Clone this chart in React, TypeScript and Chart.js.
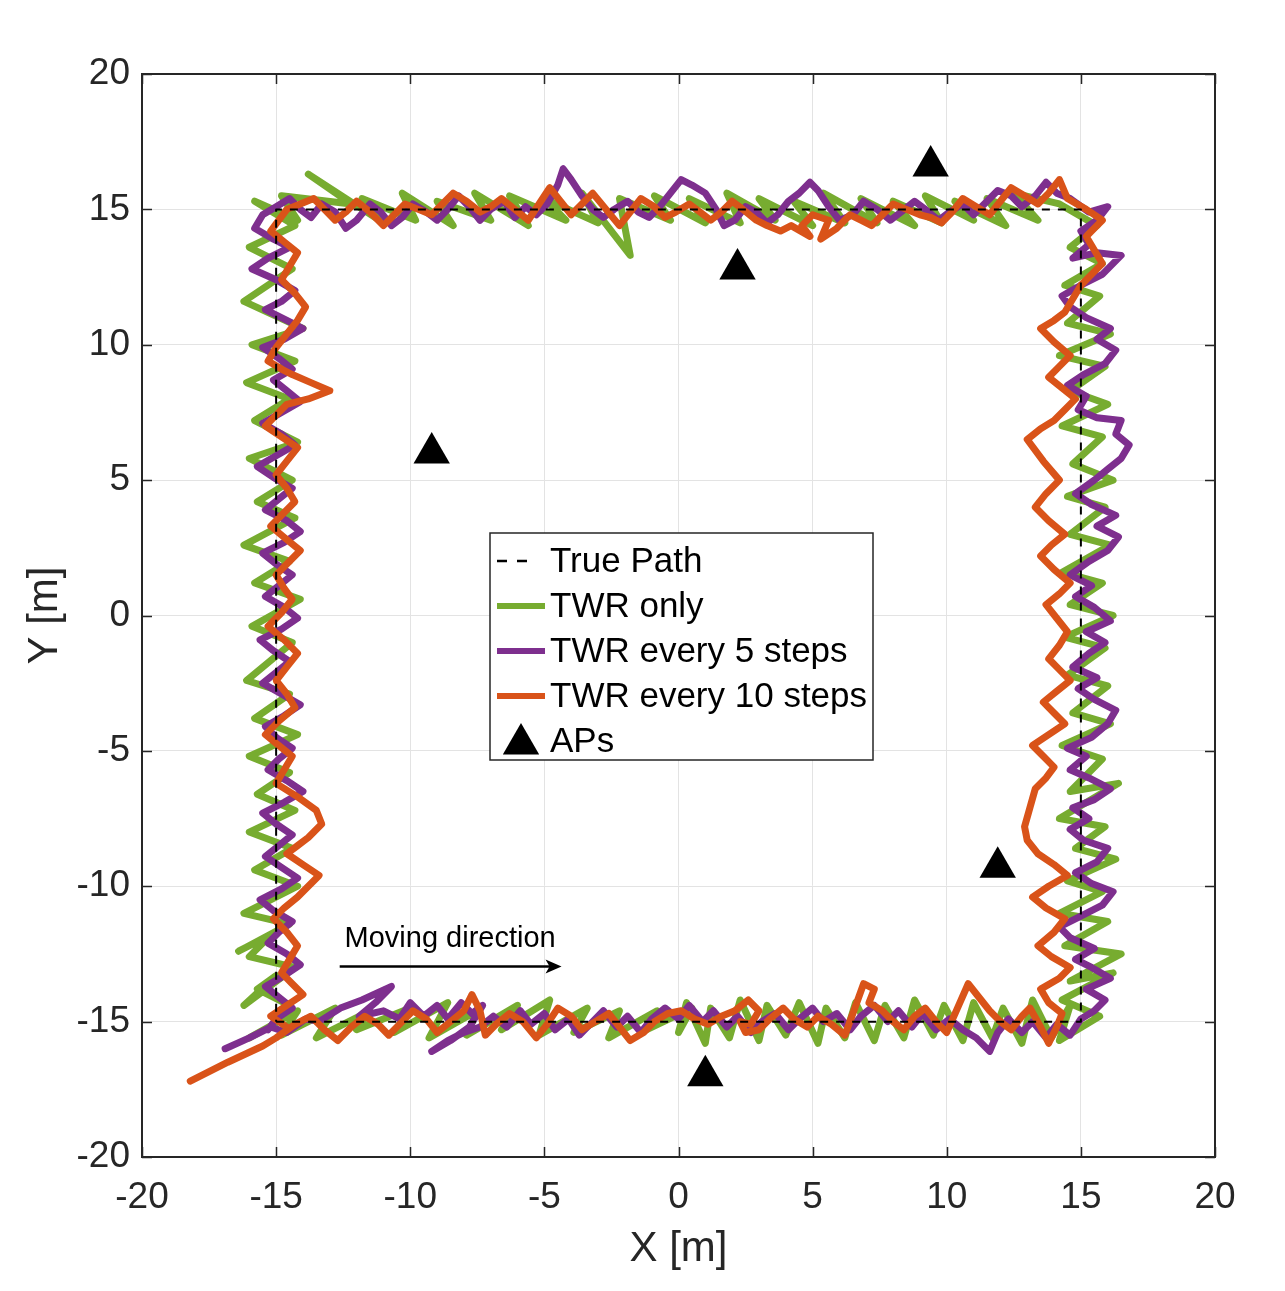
import { useEffect, useRef } from "react";
import { Chart, registerables } from "chart.js";

Chart.register(...registerables);

const FONT = '"Liberation Sans", Arial, Helvetica, sans-serif';
const INK = "#262626";

const xTicks = [-20, -15, -10, -5, 0, 5, 10, 15, 20];
const yTicks = [-20, -15, -10, -5, 0, 5, 10, 15, 20];

const seriesLabels = ["True Path", "TWR only", "TWR every 5 steps", "TWR every 10 steps", "APs"];
const seriesColors = ["#000000", "#77AC30", "#7E2F8E", "#D95319", "#000000"];

const truePath: number[][] = [[-15, -15], [15, -15], [15, 15], [-15, 15], [-15, -15]];

const twrOnly: number[][] = [
  [-16.0, -15.6], [-14.2, -14.6], [-14.8, -15.5], [-12.8, -14.5], [-13.5, -15.6], [-11.5, -14.6], [-12.0, -15.3], [-10.0, -14.5],
  [-10.6, -15.4], [-8.6, -14.3], [-9.3, -15.6], [-7.5, -14.6], [-7.9, -15.5], [-6.0, -14.4], [-6.6, -15.3], [-4.8, -14.2],
  [-5.2, -15.5], [-3.4, -14.5], [-3.9, -15.4], [-2.2, -14.6], [-2.6, -15.6], [-0.8, -14.6], [-1.2, -15.3], [0.5, -14.5],
  [0.0, -15.4], [0.3, -14.3], [1.0, -15.8], [1.2, -14.5], [1.9, -15.6], [2.3, -14.2], [3.0, -15.7], [3.3, -14.4],
  [4.0, -15.5], [4.5, -14.3], [5.2, -15.8], [5.5, -14.5], [6.2, -15.6], [6.6, -14.3], [7.3, -15.7], [7.7, -14.4],
  [8.4, -15.6], [8.8, -14.2], [9.5, -15.5], [9.9, -14.4], [10.6, -15.7], [11.0, -14.3], [11.7, -15.6], [12.1, -14.5],
  [12.8, -15.8], [13.2, -14.2], [13.9, -15.6], [14.6, -14.4], [14.2, -15.7], [15.7, -14.8],
  [14.3, -14.2], [16.2, -13.2], [14.6, -13.5], [16.5, -12.5], [14.4, -12.2], [16.0, -11.3], [14.2, -11.0], [15.8, -10.2],
  [14.5, -9.8], [16.3, -9.0], [14.8, -8.6], [15.9, -7.8], [14.2, -7.5], [16.4, -6.2], [14.6, -6.5], [15.8, -5.3],
  [14.3, -4.8], [16.1, -4.0], [14.7, -3.6], [16.0, -2.6], [14.5, -2.2], [15.9, -1.2], [14.4, -0.8], [16.2, 0.0],
  [14.6, 0.4], [15.8, 1.2], [14.3, 1.6], [16.1, 2.6], [14.6, 3.0], [15.9, 4.0], [14.5, 4.4], [16.2, 5.0],
  [14.7, 5.6], [15.8, 6.6], [14.3, 7.0], [16.0, 7.8], [14.6, 8.3], [15.9, 9.2], [14.2, 9.6], [16.1, 10.4],
  [14.5, 10.8], [15.7, 11.8], [14.4, 12.2], [15.8, 13.0], [14.6, 13.6], [15.6, 14.4], [14.2, 15.2],
  [12.5, 15.6], [13.4, 14.6], [11.5, 15.4], [12.2, 14.4], [10.3, 15.3], [11.0, 14.6], [9.2, 15.5], [9.8, 14.5],
  [8.0, 15.3], [8.8, 14.4], [6.8, 15.4], [7.4, 14.5], [5.4, 15.6], [6.2, 14.5], [4.3, 15.3], [5.0, 14.4],
  [3.0, 15.4], [3.6, 14.6], [1.8, 15.6], [2.3, 14.5], [0.4, 15.4], [1.0, 14.5], [-0.9, 15.5], [-0.3, 14.6],
  [-2.2, 15.4], [-1.8, 13.3], [-3.6, 15.6], [-3.0, 14.5], [-5.0, 15.4], [-4.2, 14.6], [-6.3, 15.5], [-5.6, 14.4],
  [-7.6, 15.6], [-7.0, 14.6], [-9.0, 15.3], [-8.4, 14.4], [-10.3, 15.6], [-9.8, 14.6], [-11.8, 15.4], [-11.0, 14.5],
  [-13.8, 16.3], [-12.2, 15.2], [-14.8, 15.5], [-14.2, 14.6],
  [-15.8, 15.3], [-14.3, 14.4], [-16.0, 13.6], [-14.4, 12.8], [-16.2, 11.6], [-14.0, 10.6], [-15.9, 10.0], [-14.3, 9.4],
  [-16.1, 8.6], [-14.5, 8.0], [-15.8, 7.2], [-14.2, 6.4], [-16.0, 5.8], [-14.4, 5.0], [-15.7, 4.2], [-14.3, 3.6],
  [-16.2, 2.6], [-14.5, 2.0], [-15.8, 1.2], [-14.1, 0.6], [-15.9, -0.4], [-14.4, -1.0], [-16.1, -2.4], [-14.5, -2.9],
  [-15.8, -3.8], [-14.2, -4.4], [-16.0, -5.2], [-14.5, -5.8], [-15.7, -6.6], [-14.3, -7.2], [-16.0, -8.0], [-14.4, -8.6],
  [-15.8, -9.4], [-14.2, -10.0], [-16.2, -11.0], [-14.5, -11.4], [-16.4, -12.4], [-15.2, -11.8], [-16.0, -12.6], [-14.3, -13.0],
  [-16.2, -14.4], [-15.0, -13.3], [-15.7, -13.8], [-14.5, -14.4],
];

const twr5: number[][] = [
  [-16.9, -16.0], [-16.0, -15.6], [-15.2, -15.2], [-14.6, -15.4], [-13.9, -14.9], [-13.4, -15.0], [-12.6, -14.5], [-11.8, -14.2],
  [-10.7, -13.7], [-11.3, -14.3], [-11.9, -14.8], [-11.0, -14.6], [-10.4, -14.9], [-10.0, -14.3], [-9.5, -14.8], [-9.0, -14.4],
  [-8.6, -14.9], [-8.1, -14.3], [-7.7, -14.7], [-7.3, -14.4], [-7.8, -15.2], [-8.5, -15.7], [-9.2, -16.1], [-8.6, -15.7],
  [-8.0, -15.4], [-7.4, -15.2], [-6.9, -14.8], [-6.4, -15.2], [-5.9, -14.6], [-5.5, -15.1], [-5.0, -14.7], [-4.6, -15.3],
  [-4.1, -14.9], [-3.7, -15.5], [-3.2, -15.0], [-2.8, -14.6], [-2.3, -15.2], [-1.9, -14.8], [-1.4, -15.4], [-1.0, -14.9],
  [-0.5, -14.5], [0.0, -14.9], [0.4, -14.4], [0.9, -15.0], [1.3, -14.6], [1.8, -15.2], [2.2, -14.8], [2.7, -15.4],
  [3.1, -15.0], [3.6, -14.7], [4.1, -15.3], [4.5, -14.9], [5.0, -14.5], [5.4, -15.0], [5.9, -14.7], [6.4, -15.3],
  [6.8, -14.8], [7.3, -14.4], [7.8, -15.0], [8.2, -14.6], [8.7, -15.2], [9.1, -14.7], [9.6, -15.3], [10.1, -14.9],
  [10.6, -15.3], [11.1, -15.6], [11.6, -16.1], [11.9, -15.4], [12.3, -14.9], [12.8, -15.4], [13.2, -15.0], [13.7, -15.6],
  [14.1, -15.1], [14.6, -15.5], [15.0, -14.9], [15.5, -14.6],
  [15.9, -14.2], [15.2, -13.8], [16.1, -13.4], [15.4, -13.0], [14.8, -12.7], [15.5, -12.3], [14.6, -11.9], [14.2, -11.5],
  [15.0, -11.1], [15.8, -10.7], [16.2, -10.2], [15.4, -9.9], [14.8, -9.5], [15.6, -9.1], [16.0, -8.6], [15.1, -8.3],
  [14.6, -7.9], [15.3, -7.5], [14.7, -7.1], [15.5, -6.8], [16.1, -6.4], [15.3, -6.0], [14.6, -5.7], [15.2, -5.2],
  [14.5, -4.9], [15.4, -4.5], [16.0, -4.0], [16.3, -3.5], [15.5, -3.1], [14.9, -2.7], [15.6, -2.3], [14.7, -1.9],
  [15.3, -1.4], [15.9, -1.0], [15.2, -0.6], [16.1, -0.2], [15.5, 0.3], [14.8, 0.7], [15.4, 1.1], [14.6, 1.5],
  [15.3, 2.0], [16.0, 2.4], [16.4, 2.9], [15.6, 3.3], [16.3, 3.7], [15.4, 4.1], [14.8, 4.5], [15.5, 5.0],
  [16.0, 5.4], [16.5, 5.8], [16.8, 6.3], [16.3, 6.7], [16.5, 7.2], [15.6, 7.3], [14.9, 7.6], [15.2, 8.1],
  [14.5, 8.5], [15.1, 8.9], [15.9, 9.3], [16.3, 9.8], [15.6, 10.2], [16.1, 10.6], [15.2, 11.0], [14.6, 11.4],
  [14.3, 11.8], [15.0, 12.2], [15.8, 12.6], [16.5, 13.3], [15.6, 13.4], [14.7, 13.2], [15.3, 13.7], [15.0, 14.2],
  [15.6, 14.6], [16.0, 15.1], [15.3, 14.9], [14.6, 15.4],
  [14.1, 15.6], [13.7, 16.0], [13.3, 15.5], [12.8, 15.1], [12.4, 15.5], [11.9, 15.7], [11.4, 15.2], [11.0, 14.8],
  [10.6, 15.2], [10.1, 14.9], [9.7, 14.6], [9.2, 15.0], [8.8, 15.3], [8.3, 14.9], [7.9, 14.6], [7.4, 15.0],
  [6.9, 15.3], [6.5, 14.8], [6.0, 14.6], [5.6, 15.1], [5.2, 15.7], [4.9, 16.0], [4.5, 15.6], [4.1, 15.3],
  [3.7, 14.8], [3.3, 14.5], [2.9, 14.9], [2.5, 15.1], [2.1, 14.6], [1.7, 14.4], [1.4, 15.0], [1.0, 15.6],
  [0.5, 15.9], [0.1, 16.1], [-0.3, 15.6], [-0.7, 15.1], [-1.1, 14.7], [-1.5, 14.9], [-1.9, 15.3], [-2.4, 15.0],
  [-2.8, 14.7], [-3.2, 15.0], [-3.6, 15.5], [-4.0, 16.1], [-4.3, 16.5], [-4.5, 15.9], [-4.9, 15.2], [-5.3, 14.8],
  [-5.7, 15.1], [-6.1, 14.7], [-6.5, 15.3], [-7.0, 15.0], [-7.4, 14.6], [-7.8, 15.1], [-8.2, 15.5], [-8.6, 15.0],
  [-9.0, 14.6], [-9.4, 14.9], [-9.9, 15.2], [-10.3, 14.7], [-10.7, 14.4], [-11.1, 14.9], [-11.5, 15.2], [-12.0, 14.6],
  [-12.4, 14.3], [-12.8, 14.9], [-13.3, 15.2], [-13.7, 14.7], [-14.1, 15.0], [-14.5, 15.4], [-15.0, 15.1], [-15.5, 14.8],
  [-15.8, 14.3], [-15.1, 13.9], [-14.5, 13.6], [-15.3, 13.2], [-15.9, 12.8], [-15.0, 12.4], [-14.3, 12.0], [-14.8, 11.6],
  [-15.4, 11.3], [-14.6, 10.9], [-14.0, 10.6], [-14.7, 10.2], [-15.5, 9.9], [-14.9, 9.5], [-14.4, 9.1], [-15.1, 8.7],
  [-14.6, 8.3], [-14.1, 7.9], [-14.8, 7.5], [-15.5, 7.1], [-14.8, 6.7], [-14.3, 6.3], [-15.0, 5.9], [-15.7, 5.5],
  [-15.1, 5.1], [-14.4, 4.7], [-14.9, 4.3], [-15.4, 3.9], [-14.6, 3.5], [-14.1, 3.1], [-14.7, 2.7], [-15.5, 2.3],
  [-15.0, 1.9], [-14.4, 1.5], [-14.9, 1.1], [-15.4, 0.7], [-14.7, 0.3], [-14.2, -0.1], [-14.8, -0.5], [-15.6, -0.9],
  [-15.1, -1.3], [-14.5, -1.7], [-15.0, -2.1], [-15.5, -2.5], [-14.8, -2.9], [-14.1, -3.3], [-14.7, -3.7], [-15.4, -4.1],
  [-15.0, -4.5], [-14.4, -4.9], [-14.9, -5.3], [-15.3, -5.7], [-14.6, -6.1], [-14.0, -6.5], [-14.7, -6.9], [-15.5, -7.3],
  [-15.0, -7.7], [-14.4, -8.1], [-14.9, -8.5], [-15.4, -8.9], [-14.8, -9.3], [-14.2, -9.7], [-14.8, -10.1], [-15.6, -10.5],
  [-15.1, -10.9], [-14.4, -11.3], [-14.9, -11.7], [-15.3, -12.1], [-14.6, -12.5], [-14.1, -12.9], [-14.7, -13.3], [-15.4, -13.7],
  [-14.9, -14.1], [-14.4, -14.5], [-15.0, -14.9], [-15.3, -15.3],
];

const twr10: number[][] = [
  [-18.2, -17.2], [-16.8, -16.5], [-15.5, -15.9], [-15.0, -15.6], [-14.3, -15.1], [-13.7, -14.8], [-13.2, -15.3], [-12.7, -15.7],
  [-12.2, -15.2], [-11.7, -14.8], [-11.2, -15.1], [-10.8, -15.5], [-10.3, -15.0], [-9.9, -14.6], [-9.4, -14.9], [-9.0, -15.4],
  [-8.5, -15.0], [-8.0, -14.6], [-7.7, -14.0], [-7.4, -14.6], [-7.2, -15.5], [-6.8, -15.1], [-6.3, -14.7], [-5.8, -15.0],
  [-5.3, -15.6], [-4.9, -15.1], [-4.5, -14.5], [-4.0, -14.8], [-3.6, -15.3], [-3.1, -15.0], [-2.6, -14.7], [-2.2, -15.2],
  [-1.8, -15.7], [-1.3, -15.4], [-0.9, -15.0], [-0.4, -14.7], [0.1, -14.6], [0.6, -14.9], [1.1, -15.1], [1.6, -14.8],
  [2.1, -14.6], [2.6, -14.2], [3.0, -14.6], [2.7, -15.1], [2.3, -15.0], [2.5, -15.4], [3.0, -15.3], [3.4, -14.9],
  [3.9, -14.5], [4.3, -14.9], [4.8, -15.2], [5.2, -14.8], [5.7, -15.1], [6.2, -15.5], [6.5, -14.7], [6.9, -13.6],
  [7.3, -13.8], [7.1, -14.3], [7.6, -14.6], [8.0, -15.0], [8.4, -15.3], [8.8, -14.8], [9.2, -14.5], [9.6, -15.0],
  [10.0, -15.4], [10.4, -14.5], [10.8, -13.6], [11.2, -14.1], [11.6, -14.6], [12.0, -15.0], [12.4, -15.3], [12.8, -14.8],
  [13.1, -14.5], [13.5, -15.2], [13.8, -15.8], [14.1, -15.2], [14.3, -14.7],
  [13.8, -14.3], [13.5, -13.8], [14.2, -13.4], [14.6, -13.0], [13.9, -12.6], [13.4, -12.2], [14.0, -11.7], [14.4, -11.2],
  [13.7, -10.8], [13.2, -10.4], [13.8, -10.0], [14.5, -9.6], [14.0, -9.2], [13.4, -8.8], [13.0, -8.3], [12.9, -7.8],
  [13.1, -7.1], [13.3, -6.4], [13.7, -6.0], [14.0, -5.6], [13.6, -5.2], [13.2, -4.8], [13.8, -4.4], [14.4, -4.0],
  [14.0, -3.6], [13.6, -3.2], [14.1, -2.8], [14.6, -2.4], [14.2, -2.0], [13.8, -1.6], [14.2, -1.1], [14.5, -0.6],
  [14.1, -0.1], [13.7, 0.4], [14.2, 0.8], [14.6, 1.2], [14.0, 1.7], [13.5, 2.2], [13.9, 2.6], [14.4, 3.0],
  [13.8, 3.5], [13.3, 4.0], [13.7, 4.5], [14.2, 5.0], [13.6, 5.7], [13.0, 6.5], [13.5, 6.9], [14.0, 7.2],
  [14.4, 7.6], [14.8, 8.0], [14.3, 8.4], [13.8, 8.8], [14.2, 9.2], [14.6, 9.6], [14.0, 10.1], [13.5, 10.6],
  [14.0, 10.9], [14.4, 11.2], [14.7, 11.7], [15.0, 12.2], [15.4, 12.6], [15.8, 13.0], [15.5, 13.5], [15.2, 14.0],
  [15.5, 14.3], [15.8, 14.6], [15.2, 15.0], [14.5, 15.4],
  [14.2, 16.1], [13.8, 15.6], [13.4, 15.2], [12.9, 15.5], [12.4, 15.8], [12.0, 15.3], [11.6, 14.8], [11.1, 15.1],
  [10.6, 15.4], [10.2, 14.9], [9.8, 14.5], [9.4, 14.7], [9.0, 14.8], [8.5, 15.0], [8.0, 15.2], [7.6, 14.8],
  [7.2, 14.4], [6.8, 14.6], [6.4, 14.8], [5.9, 14.3], [5.3, 13.9], [5.6, 14.6], [5.0, 14.8], [4.6, 14.4],
  [4.9, 14.0], [4.2, 14.4], [3.8, 14.2], [3.3, 14.4], [2.9, 14.6], [2.4, 15.0], [2.0, 15.3], [1.6, 14.9],
  [1.2, 14.6], [0.8, 14.9], [0.4, 15.2], [-0.1, 14.9], [-0.5, 14.7], [-0.9, 15.1], [-1.4, 15.4], [-1.8, 14.9],
  [-2.2, 14.4], [-2.7, 15.0], [-3.2, 15.6], [-3.6, 15.2], [-4.0, 14.8], [-4.4, 15.3], [-4.8, 15.8], [-5.2, 15.2],
  [-5.6, 14.6], [-6.1, 15.0], [-6.6, 15.4], [-7.0, 15.1], [-7.4, 14.9], [-7.9, 15.3], [-8.4, 15.6], [-8.8, 15.2],
  [-9.2, 14.8], [-9.7, 15.0], [-10.2, 15.2], [-10.6, 14.8], [-11.0, 14.4], [-11.5, 14.9], [-12.0, 15.3], [-12.4, 14.9],
  [-12.8, 14.6], [-13.2, 15.0], [-13.6, 15.4], [-14.1, 15.2], [-14.6, 15.0],
  [-14.9, 14.6], [-15.2, 14.2], [-14.7, 13.8], [-14.2, 13.4], [-14.5, 12.9], [-14.8, 12.4], [-14.3, 11.9], [-13.9, 11.4],
  [-14.2, 10.9], [-14.6, 10.4], [-15.0, 9.9], [-15.3, 9.4], [-14.8, 9.1], [-14.4, 8.9], [-13.7, 8.6], [-13.0, 8.3],
  [-13.8, 8.0], [-14.6, 7.8], [-15.0, 7.4], [-15.4, 7.0], [-14.8, 6.6], [-14.2, 6.2], [-14.6, 5.7], [-15.0, 5.2],
  [-14.6, 4.7], [-14.3, 4.2], [-14.8, 3.7], [-15.2, 3.3], [-14.6, 2.8], [-14.1, 2.4], [-14.6, 1.9], [-15.0, 1.5],
  [-14.7, 1.0], [-14.4, 0.6], [-14.8, 0.1], [-15.3, -0.4], [-14.7, -0.9], [-14.2, -1.4], [-14.6, -1.9], [-15.0, -2.4],
  [-14.6, -2.9], [-14.3, -3.4], [-14.9, -3.9], [-15.4, -4.4], [-14.9, -4.8], [-14.4, -5.2], [-14.7, -5.7], [-15.0, -6.2],
  [-14.2, -6.7], [-13.5, -7.2], [-13.3, -7.7], [-13.8, -8.2], [-14.2, -8.5], [-14.6, -8.8], [-14.0, -9.2], [-13.4, -9.6],
  [-13.8, -10.0], [-14.2, -10.4], [-14.7, -10.8], [-15.1, -11.2], [-14.6, -11.7], [-14.2, -12.2], [-14.5, -12.7], [-14.8, -13.2],
  [-14.4, -13.6], [-14.0, -14.0], [-14.6, -14.4], [-15.2, -14.8], [-14.6, -15.2],
];

const apX = [9.4, 2.2, -9.2, 11.9, 1.0];
const apY = [16.6, 12.8, 6.0, -9.3, -17.0];

const noteText = "Moving direction";
const noteTextAt = [-12.45, -11.96];
const arrowFrom = [-12.63, -12.96];
const arrowTo = [-4.36, -12.96];

const toXY = (pts: number[][]) => pts.map(([x, y]) => ({ x, y }));

function drawTriangle(ctx: CanvasRenderingContext2D, cx: number, cy: number, r: number) {
  let rad = 0;
  ctx.beginPath();
  for (let i = 0; i < 3; i++) {
    const px = cx + Math.sin(rad) * r;
    const py = cy - Math.cos(rad) * r;
    if (i === 0) ctx.moveTo(px, py);
    else ctx.lineTo(px, py);
    rad += (2 * Math.PI) / 3;
  }
  ctx.closePath();
  ctx.fill();
}

const decorPlugin = {
  id: "decor",
  afterDatasetsDraw(chart: any) {
    const { ctx, chartArea: a, scales } = chart;
    const xs = scales.x;
    const ys = scales.y;
    ctx.save();
    ctx.strokeStyle = INK;
    ctx.lineWidth = 1.5;
    ctx.beginPath();
    xTicks.forEach((v) => {
      const px = Math.round(xs.getPixelForValue(v)) + 0.5;
      ctx.moveTo(px, a.bottom);
      ctx.lineTo(px, a.bottom - 10);
      ctx.moveTo(px, a.top);
      ctx.lineTo(px, a.top + 10);
    });
    yTicks.forEach((v) => {
      const py = Math.round(ys.getPixelForValue(v)) + 0.5;
      ctx.moveTo(a.left, py);
      ctx.lineTo(a.left + 10, py);
      ctx.moveTo(a.right, py);
      ctx.lineTo(a.right - 10, py);
    });
    ctx.stroke();
    ctx.lineWidth = 2;
    ctx.strokeRect(a.left, a.top, a.right - a.left, a.bottom - a.top);

    const ax0 = xs.getPixelForValue(arrowFrom[0]);
    const ay0 = ys.getPixelForValue(arrowFrom[1]);
    const ax1 = xs.getPixelForValue(arrowTo[0]);
    const ay1 = ys.getPixelForValue(arrowTo[1]);
    ctx.strokeStyle = "#000";
    ctx.fillStyle = "#000";
    ctx.lineWidth = 2.5;
    ctx.beginPath();
    ctx.moveTo(ax0, ay0);
    ctx.lineTo(ax1 - 8, ay1);
    ctx.stroke();
    ctx.beginPath();
    ctx.moveTo(ax1, ay1);
    ctx.lineTo(ax1 - 16, ay1 - 7);
    ctx.lineTo(ax1 - 12, ay1);
    ctx.lineTo(ax1 - 16, ay1 + 7);
    ctx.closePath();
    ctx.fill();
    ctx.font = `29px ${FONT}`;
    ctx.textAlign = "left";
    ctx.textBaseline = "middle";
    ctx.fillText(noteText, xs.getPixelForValue(noteTextAt[0]), ys.getPixelForValue(noteTextAt[1]));

    const L = a.left + 348;
    const T = a.top + 459;
    const W = 383;
    const H = 227;
    ctx.fillStyle = "#fff";
    ctx.fillRect(L, T, W, H);
    ctx.strokeStyle = INK;
    ctx.lineWidth = 1.5;
    ctx.strokeRect(L, T, W, H);
    ctx.font = `35px ${FONT}`;
    ctx.textBaseline = "middle";
    seriesLabels.forEach((label, i) => {
      const y = T + 28 + 45 * i;
      if (i === 0) {
        ctx.strokeStyle = "#000";
        ctx.lineWidth = 2.5;
        ctx.setLineDash([10, 10]);
        ctx.beginPath();
        ctx.moveTo(L + 7, y);
        ctx.lineTo(L + 45, y);
        ctx.stroke();
        ctx.setLineDash([]);
      } else if (i === 4) {
        ctx.fillStyle = "#000";
        drawTriangle(ctx, L + 31, y + 3, 21);
      } else {
        ctx.strokeStyle = seriesColors[i];
        ctx.lineWidth = 6;
        ctx.beginPath();
        ctx.moveTo(L + 7, y);
        ctx.lineTo(L + 55, y);
        ctx.stroke();
      }
      ctx.fillStyle = "#000";
      ctx.fillText(label, L + 60, y + 1);
    });
    ctx.restore();
  },
};

export default function App() {
  const ref = useRef<HTMLCanvasElement>(null);
  useEffect(() => {
    document.body.style.margin = "0";
    const canvas = ref.current;
    if (!canvas) return;
    const lineDs = (i: number, pts: number[][], order: number) => ({
      label: seriesLabels[i],
      data: toXY(pts),
      showLine: true,
      borderColor: seriesColors[i],
      backgroundColor: seriesColors[i],
      borderWidth: 7,
      borderJoinStyle: "round" as const,
      borderCapStyle: "round" as const,
      pointRadius: 0,
      order,
    });
    const chart = new Chart(canvas, {
      type: "scatter",
      data: {
        datasets: [
          {
            ...lineDs(0, truePath, 0),
            borderWidth: 2,
            borderDash: [8, 8],
            borderCapStyle: "butt" as const,
          },
          lineDs(1, twrOnly, 4),
          lineDs(2, twr5, 3),
          lineDs(3, twr10, 2),
          {
            label: seriesLabels[4],
            data: apX.map((x, i) => ({ x, y: apY[i] })),
            showLine: false,
            pointStyle: "triangle",
            pointRadius: 21,
            pointBackgroundColor: "#000",
            pointBorderColor: "#000",
            pointBorderWidth: 0,
            order: 1,
          },
        ],
      },
      options: {
        animation: false,
        responsive: false,
        devicePixelRatio: 1,
        layout: { padding: { top: 74, right: 70, left: 0, bottom: 0 } },
        plugins: { legend: { display: false }, tooltip: { enabled: false } },
        scales: {
          x: {
            type: "linear",
            min: -20,
            max: 20,
            afterBuildTicks: (s: any) => {
              s.ticks = xTicks.map((v) => ({ value: v }));
            },
            afterFit: (s: any) => {
              s.height = 134;
            },
            grid: { color: "#e3e3e3", lineWidth: 1, drawTicks: false },
            border: { display: true, color: INK, width: 2 },
            ticks: { color: INK, font: { family: FONT, size: 37 }, padding: 19, maxRotation: 0 },
            title: {
              display: true,
              text: "X [m]",
              color: INK,
              font: { family: FONT, size: 42 },
              padding: { top: 0, bottom: 16 },
            },
          },
          y: {
            type: "linear",
            min: -20,
            max: 20,
            afterBuildTicks: (s: any) => {
              s.ticks = yTicks.map((v) => ({ value: v }));
            },
            afterFit: (s: any) => {
              s.width = 142;
            },
            grid: { color: "#e3e3e3", lineWidth: 1, drawTicks: false },
            border: { display: true, color: INK, width: 2 },
            ticks: { color: INK, font: { family: FONT, size: 37 }, padding: 12 },
            title: {
              display: true,
              text: "Y [m]",
              color: INK,
              font: { family: FONT, size: 42 },
              padding: { top: 20, bottom: 0 },
            },
          },
        },
      },
      plugins: [decorPlugin],
    });
    return () => chart.destroy();
  }, []);
  return (
    <div style={{ width: 1285, height: 1291, background: "#fff" }}>
      <canvas ref={ref} width={1285} height={1291} style={{ display: "block" }} />
    </div>
  );
}
